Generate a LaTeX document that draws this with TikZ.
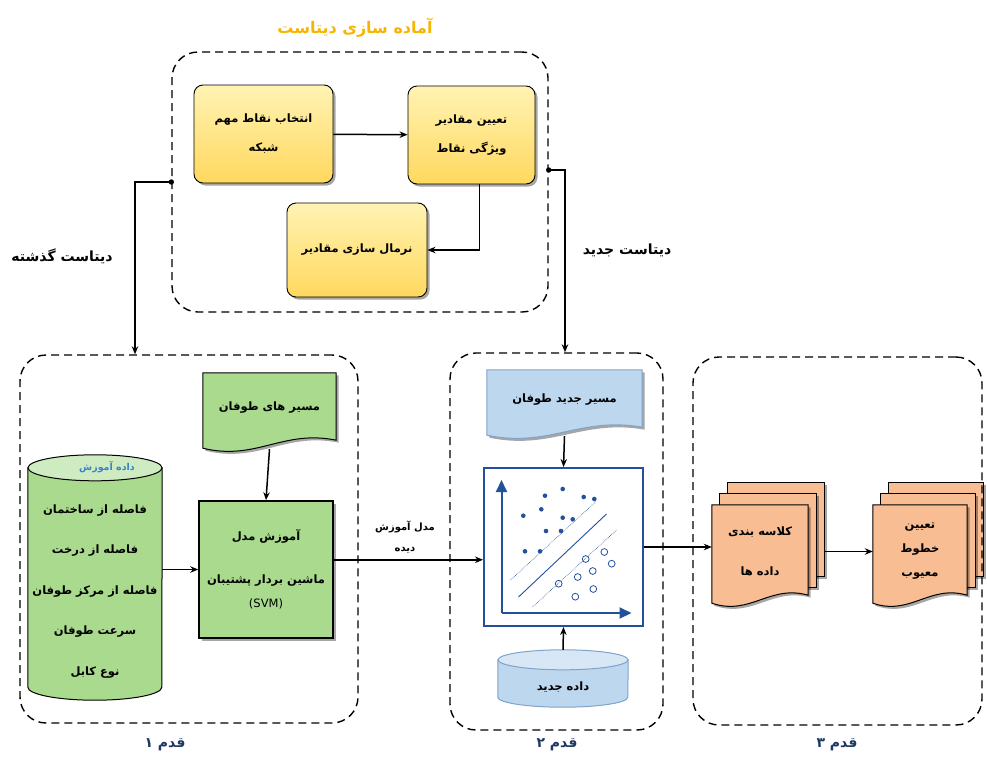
\documentclass[tikz,border=0pt]{standalone}
\usepackage{fontspec}
\newfontfamily\pfont[Script=Arabic]{DejaVu Sans}
\TeXXeTstate=1
\usetikzlibrary{arrows.meta,shadows,backgrounds,calc}

\definecolor{ytop}{HTML}{FFF3B3}
\definecolor{ybot}{HTML}{FFD85E}
\definecolor{gfill}{HTML}{A9DA8E}
\definecolor{gtop}{HTML}{CFEBC1}
\definecolor{bfill}{HTML}{BDD7EE}
\definecolor{btop}{HTML}{D8E7F6}
\definecolor{bline}{HTML}{7FA3C9}
\definecolor{ofill}{HTML}{F8BD92}
\definecolor{plotblue}{HTML}{23519C}
\definecolor{titlegold}{HTML}{F7B500}
\definecolor{stepnavy}{HTML}{1F3864}
\definecolor{headblue}{HTML}{3B82C8}

% persian text, one line
\newcommand{\fatxt}[1]{{\pfont\bfseries\beginR #1\endR}}

% document shape with a wavy bottom, drawn round a node
\newcommand{\docwave}[2]{%
  \path[#2] (#1.north west) -- (#1.north east) -- ([yshift=3pt]#1.south east)
    .. controls ($(#1.south east)!0.4!(#1.south west)+(0pt,14pt)$)
    and ($(#1.south east)!0.6!(#1.south west)+(0pt,-18pt)$)
    .. ([yshift=-5pt]#1.south west) -- cycle;}

% three stacked documents
\newcommand{\docstack}[2]{%
  \path[#2] ([shift={(16pt,22pt)}]#1.north west) rectangle ([shift={(16pt,22pt)}]#1.south east);
  \path[#2] ([shift={(8pt,11pt)}]#1.north west) rectangle ([shift={(8pt,11pt)}]#1.south east);
  \docwave{#1}{#2}}

% cylinder round a node: node, half width, ellipse radius, style, top colour
\newcommand{\tank}[5]{%
  \path[#4] ([yshift=-#3]#1.north west) -- ([yshift=#3]#1.south west)
    arc[start angle=180, end angle=360, x radius=#2, y radius=#3]
    -- ([yshift=-#3]#1.north east) -- cycle;
  \path[#4, fill=#5] ([yshift=-#3]#1.north) ellipse[x radius=#2, y radius=#3];}

\tikzset{
  stage/.style={draw, line width=1.4pt, dash pattern=on 8pt off 5pt, rounded corners=26pt},
  link/.style={line width=1.5pt, -{Stealth[length=8pt,width=6.5pt]}},
  shade/.style={drop shadow={shadow xshift=2.5pt, shadow yshift=-2.5pt, opacity=.35, fill=black}},
  ybox/.style={draw, line width=.9pt, rounded corners=9pt, top color=ytop, bottom color=ybot,
    shade, align=center, font=\fontsize{11.5}{29}\selectfont},
  gbox/.style={draw, line width=1.5pt, fill=gfill, shade, align=center},
  doctext/.style={align=center},
  gdoc/.style={draw, line width=1pt, fill=gfill, shade},
  bdoc/.style={draw=bline, line width=1pt, fill=bfill, shade},
  odoc/.style={draw, line width=1pt, fill=ofill, shade},
  gtank/.style={draw, line width=1pt, fill=gfill},
  btank/.style={draw=bline, line width=1pt, fill=bfill},
  steplbl/.style={text=stepnavy, font=\fontsize{14}{16}\selectfont},
  dlabel/.style={font=\fontsize{14}{16}\selectfont}
}

\begin{document}
\begin{tikzpicture}[x=1pt, y=-1pt]
\useasboundingbox (0,0) rectangle (987,758);

% dashed frames
\node[stage, minimum width=376pt, minimum height=260pt] (prep) at (360,182) {};
\node[stage, minimum width=338pt, minimum height=368pt] (step1) at (189,539) {};
\node[stage, minimum width=213pt, minimum height=377pt] (step2) at (556.5,541.5) {};
\node[stage, minimum width=289pt, minimum height=368pt] (step3) at (837.5,541) {};

\node[text=titlegold, font=\fontsize{16}{18}\selectfont] (title) at (355,28) {\fatxt{آماده سازی دیتاست}};
\node[steplbl] (s1lbl) at (165,745) {\fatxt{قدم ۱}};
\node[steplbl] (s2lbl) at (557,745) {\fatxt{قدم ۲}};
\node[steplbl] (s3lbl) at (837,745) {\fatxt{قدم ۳}};

% data preparation
\node[ybox, minimum width=139pt, minimum height=98pt] (pick) at (263.5,134) {\fatxt{انتخاب نقاط مهم}\\\fatxt{شبکه}};
\node[ybox, minimum width=127pt, minimum height=98pt] (feat) at (471.5,135) {\fatxt{تعیین مقادیر}\\\fatxt{ویژگی نقاط}};
\node[ybox, minimum width=140pt, minimum height=94pt] (norm) at (357,250) {\fatxt{نرمال سازی مقادیر}};

\draw[link] (pick) -- (feat);
\draw[link] ([xshift=8pt]feat.south) |- (norm.east);

% datasets
\fill (prep.west) circle[radius=2.7pt];
\draw[link] (prep.west) -| ([xshift=-54pt]step1.north);
\node[dlabel] (pastlbl) at (62,256) {\fatxt{دیتاست گذشته}};
\fill ([yshift=12pt]prep.east) circle[radius=2.7pt];
\draw[link] ([yshift=12pt]prep.east) -| ([xshift=8.5pt]step2.north);
\node[dlabel] (newlbl) at (627,250) {\fatxt{دیتاست جدید}};

% step 1
\node[doctext, minimum width=133pt, minimum height=70pt, font=\fontsize{11.5}{13}\selectfont] (track) at (269.5,408) {\fatxt{مسیر های طوفان}};
\node[gbox, minimum width=134pt, minimum height=137pt, font=\fontsize{11.5}{24}\selectfont] (svm) at (266,569.5)
  {\fatxt{آموزش مدل}\\[19pt]\fatxt{ماشین بردار پشتیبان}\\{\pfont (SVM)}};
\node[minimum width=134pt, minimum height=245pt] (train) at (95,577.5) {};
\node[text=headblue, font=\fontsize{9.5}{11}\selectfont] (trainhead) at ([xshift=12pt,yshift=-12pt]train.north) {\fatxt{داده آموزش}};
\node[align=center, font=\fontsize{11.5}{40.5}\selectfont] (feats) at ([yshift=-14pt]train.center)
  {\fatxt{فاصله از ساختمان}\\\fatxt{فاصله از درخت}\\\fatxt{فاصله از مرکز طوفان}\\\fatxt{سرعت طوفان}\\\fatxt{نوع کابل}};

\draw[link] ([yshift=-6pt]track.south) -- (svm.north);
\draw[link] (train.east |- svm.west) -- (svm.west);

% step 2
\node[doctext, minimum width=155pt, minimum height=60pt, font=\fontsize{11.5}{13}\selectfont] (newtrack) at (564.5,400) {\fatxt{مسیر جدید طوفان}};
\node[draw=plotblue, line width=2pt, fill=white, minimum width=159pt, minimum height=158pt] (plot) at (563.5,547) {};
\node[minimum width=130pt, minimum height=57pt] (newdata) at (563,678.5) {};
\node[font=\fontsize{11.5}{13}\selectfont] (newdatalbl) at ([yshift=-9pt]newdata.center) {\fatxt{داده جدید}};

\begin{scope}[shift={(plot.center)}, plotblue]
  \draw[line width=2pt, -{Triangle[length=12pt,width=11pt]}] (-62,66) -- (-62,-67);
  \draw[line width=2pt, -{Triangle[length=12pt,width=11pt]}] (-62,66) -- (68,66);
  \draw[line width=.9pt] (-45,50) -- (43,-33);
  \draw[line width=.6pt, densely dotted] (-53,33) -- (33,-46);
  \draw[line width=.6pt, densely dotted] (-31,60) -- (53,-17);
  \foreach \p in {(-18.5,-51.3),(-0.8,-58),(20.2,-50),(30.8,-48),(-40.2,-31.3),(-22.2,-37.7),
      (-0.8,-29.3),(9.2,-27.7),(-17.5,-16),(-2.5,-16),(-38.5,4.3),(-23.5,4.3)}
    \fill \p circle[radius=2.3pt];
  \foreach \p in {(40.8,5),(48.2,16.7),(22.2,12),(29.2,24),(14.2,30),(-4.8,36.7),(29.8,42),(11.8,49.7)}
    \draw[line width=.8pt] \p circle[radius=3.4pt];
\end{scope}

\draw[link] ([yshift=-6pt]newtrack.south) -- (plot.north);
\draw[link] (newdata.north) -- (plot.south);
\draw[link] (svm.east |- plot.189) -- (plot.189);
\node[align=center, font=\fontsize{10}{21}\selectfont] (modellbl) at (405,537) {\fatxt{مدل آموزش}\\\fatxt{دیده}};

% step 3
\node[doctext, minimum width=96pt, minimum height=93pt, font=\fontsize{11.5}{40}\selectfont] (cls) at (760,551.5) {\fatxt{کلاسه بندی}\\\fatxt{داده ها}};
\node[doctext, minimum width=94pt, minimum height=93pt, font=\fontsize{11.5}{24}\selectfont] (fix) at (920,551.5) {\fatxt{تعیین}\\\fatxt{خطوط}\\\fatxt{معیوب}};

\draw[link] (plot.east) -- (plot.east -| cls.west);
\draw[link] ([xshift=16pt]cls.east) -- (fix.west);

% shapes behind the texts
\begin{pgfonlayer}{background}
  \docwave{track}{gdoc}
  \docwave{newtrack}{bdoc}
  \docstack{cls}{odoc}
  \docstack{fix}{odoc}
  \tank{train}{67pt}{13pt}{gtank}{gtop}
  \tank{newdata}{65pt}{10pt}{btank}{btop}
\end{pgfonlayer}
\end{tikzpicture}
\end{document}
